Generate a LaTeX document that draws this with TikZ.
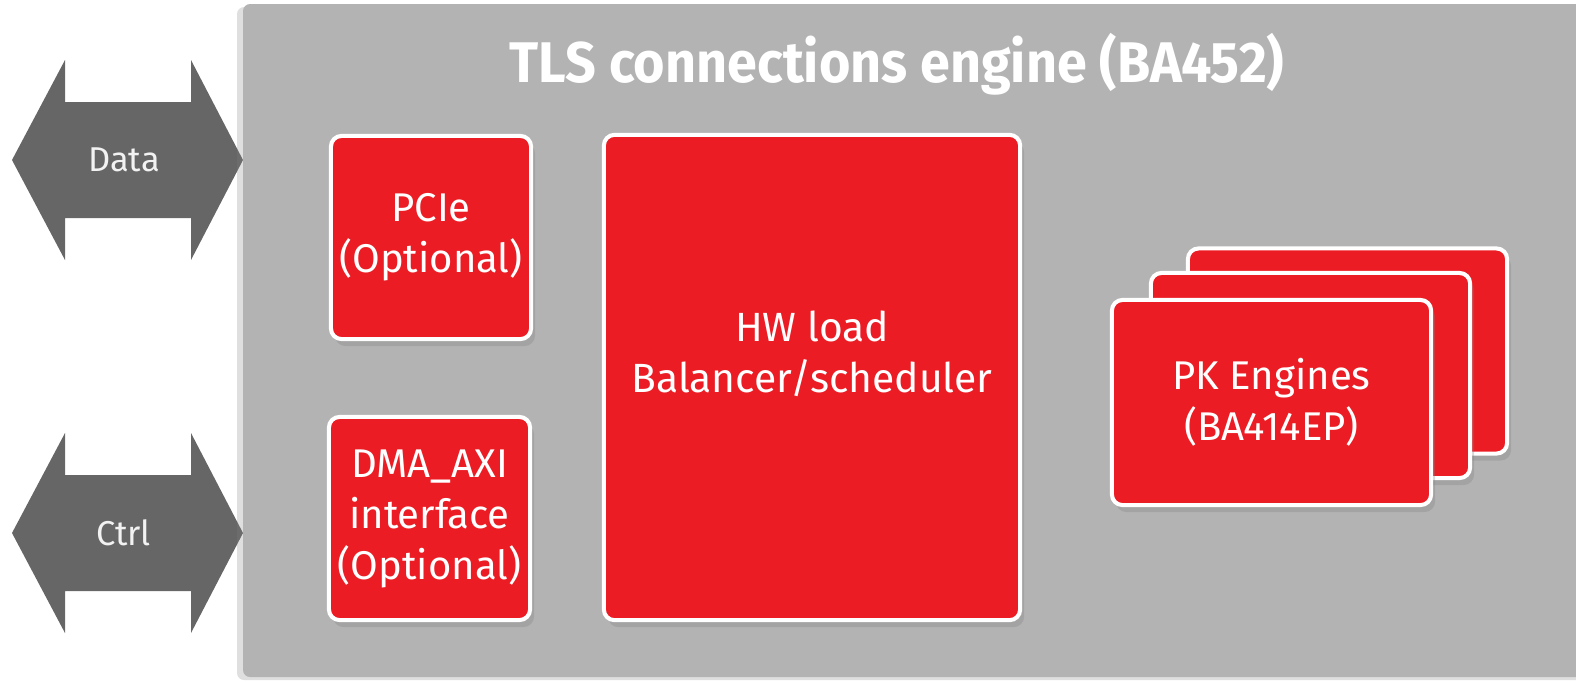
\documentclass[tikz,border=0pt]{standalone}
\usepackage{fontspec}
\setmainfont{Fira Sans}
\newfontfamily\titlefont{Fira Sans}[FakeStretch=0.94]
\usetikzlibrary{positioning,shadows}

\definecolor{tlsred}{HTML}{EC1C24}
\definecolor{panelgray}{HTML}{B3B3B3}
\definecolor{busgray}{HTML}{666666}
\definecolor{buswhite}{HTML}{F2F2F2}

\begin{document}
\begin{tikzpicture}[
        x=0.01cm, y=-0.01cm,
        panel/.style={fill=panelgray, rounded corners=2pt,
            drop shadow={shadow xshift=-0.6mm, shadow yshift=-0.3mm, opacity=0.25}},
        bus/.style={fill=busgray},
        buslabel/.style={text=buswhite, font=\fontsize{9.8pt}{11pt}\selectfont, inner sep=0pt},
        block/.style={draw=white, line width=1.15pt, fill=tlsred, rounded corners=3pt,
            text=white, align=center, inner sep=0pt,
            font=\fontsize{11.4pt}{14.5pt}\selectfont,
            drop shadow={shadow xshift=0.4mm, shadow yshift=-0.7mm, opacity=0.3}},
        card/.style={block, minimum width=3.19cm, minimum height=2.05cm},
        title/.style={text=white, font=\titlefont\bfseries\fontsize{16.3pt}{19pt}\selectfont, inner sep=0pt},
        ]
    \useasboundingbox (0,0) rectangle (1576,681);

    % buses on the left
    \foreach \name/\cy/\txt in {data/160/Data, ctrl/533/Ctrl} {
        \fill[bus] (12,\cy) -- ++(53,-100) -- ++(0,42) -- ++(126,0) -- ++(0,-42)
            -- ++(52,100) -- ++(-52,100) -- ++(0,-42) -- ++(-126,0) -- ++(0,42) -- cycle;
        \node (\name) [buslabel] at (124,\cy) {\txt};
    }

    % engine
    \fill[panel] (243,4) rectangle (1600,677);
    \node (title) [title, anchor=base] at (897,82) {TLS connections engine (BA452)};

    \node (pcie) [block, minimum width=2.00cm, minimum height=2.03cm] at (431,237.5)
        {PCIe\\(Optional)};
    \node (dma) [block, minimum width=2.01cm, minimum height=2.03cm] at (429.5,518.5)
        {DMA\_AXI\\interface\\(Optional)};
    \node (hw) [block, minimum width=4.16cm, minimum height=4.85cm] at (812,377.5) {};
    \node (hwlabel) [text=white, align=center, font=\fontsize{11.6pt}{14.5pt}\selectfont]
        at ([yshift=0.24cm]hw.center) {HW load\\Balancer/scheduler};

    % stacked PK engines
    \node (pkback) [card] at (1347.5,351) {};
    \node (pkmid) [card] at (1310.5,375.5) {};
    \node (pkfront) [card] at (1271.5,402.5) {PK Engines\\(BA414EP)};
\end{tikzpicture}
\end{document}
